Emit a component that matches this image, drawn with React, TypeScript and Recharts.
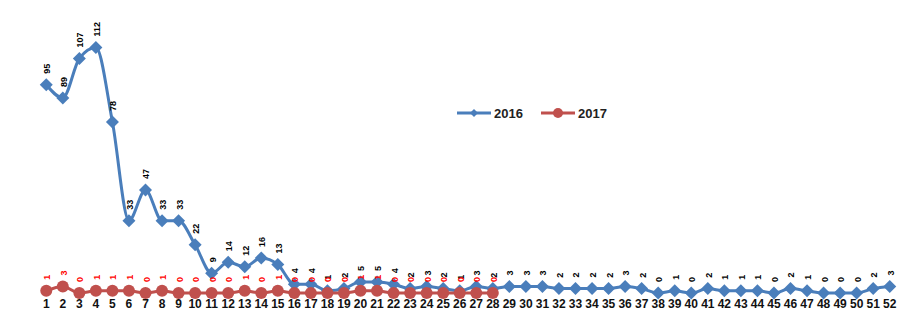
import { LineChart, Line, XAxis, YAxis, LabelList } from 'recharts';

const weeks = [
  1, 2, 3, 4, 5, 6, 7, 8, 9, 10, 11, 12, 13, 14, 15, 16, 17, 18, 19, 20, 21, 22, 23, 24, 25, 26,
  27, 28, 29, 30, 31, 32, 33, 34, 35, 36, 37, 38, 39, 40, 41, 42, 43, 44, 45, 46, 47, 48, 49, 50, 51, 52,
];
const cases2016 = [
  95, 89, 107, 112, 78, 33, 47, 33, 33, 22, 9, 14, 12, 16, 13, 4, 4, 1, 2, 5, 5, 4, 2, 3, 2, 1,
  3, 2, 3, 3, 3, 2, 2, 2, 2, 3, 2, 0, 1, 0, 2, 1, 1, 1, 0, 2, 1, 0, 0, 0, 2, 3,
];
const cases2017 = [
  1, 3, 0, 1, 1, 1, 0, 1, 0, 0, 0, 0, 1, 0, 1, 0, 0, 0, 0, 1, 1, 0, 0, 0, 0, 0, 0, 0,
];
const minorTicks = [
  0.5, 1.5, 2.5, 3.5, 4.5, 5.5, 6.5, 7.5, 8.5, 9.5, 10.5, 11.5, 12.5, 13.5, 14.5, 15.5, 16.5, 17.5,
  18.5, 19.5, 20.5, 21.5, 22.5, 23.5, 24.5, 25.5, 26.5, 27.5, 28.5, 29.5, 30.5, 31.5, 32.5, 33.5,
  34.5, 35.5, 36.5, 37.5, 38.5, 39.5, 40.5, 41.5, 42.5, 43.5, 44.5, 45.5, 46.5, 47.5, 48.5, 49.5,
  50.5, 51.5, 52.5,
];

const BLUE = '#4a7ebb';
const RED = '#c0504d';
const FONT = 'Liberation Sans, Arial, sans-serif';

const data = weeks.map((w, i) => ({
  week: w,
  y2016: cases2016[i],
  y2017: i < cases2017.length ? cases2017[i] : null,
}));

const Diamond = (props: any) => {
  const { cx, cy } = props;
  if (cx == null || cy == null) return null;
  const r = 6.5;
  return <path d={`M${cx},${cy - r}L${cx + r},${cy}L${cx},${cy + r}L${cx - r},${cy}Z`} fill={BLUE} />;
};

const Dot = (props: any) => {
  const { cx, cy } = props;
  if (cx == null || cy == null) return null;
  return <circle cx={cx} cy={cy} r={6} fill={RED} />;
};

const vLabel = (color: string) => (props: any) => {
  const { x, y, value } = props;
  if (value == null || x == null || y == null) return null;
  const tx = x + 1;
  const ty = y - 11;
  return (
    <text
      x={tx}
      y={ty}
      transform={`rotate(-90 ${tx} ${ty})`}
      fill={color}
      fontSize={9}
      fontWeight="bold"
      fontFamily={FONT}
      textAnchor="start"
      dominantBaseline="central"
    >
      {value}
    </text>
  );
};

const LegendBox = () => (
  <svg width={170} height={20}>
    <line x1={2} y1={10} x2={36} y2={10} stroke={BLUE} strokeWidth={3} />
    <path d="M19,6L23,10L19,14L15,10Z" fill={BLUE} />
    <text x={39} y={14.5} fontSize={13} fontWeight="bold" fill="#222" fontFamily={FONT}>2016</text>
    <line x1={86} y1={10} x2={120} y2={10} stroke={RED} strokeWidth={3} />
    <circle cx={103} cy={10} r={5} fill={RED} />
    <text x={123} y={14.5} fontSize={13} fontWeight="bold" fill="#222" fontFamily={FONT}>2017</text>
  </svg>
);

export default function App() {
  return (
    <div style={{ position: 'absolute', left: 0, top: 0, width: 911, height: 315, background: '#fff' }}>
      <LineChart width={911} height={315} data={data} margin={{ top: 30, right: 13, left: 38, bottom: 2 }}>
        <XAxis
          xAxisId="minor"
          type="number"
          dataKey="week"
          domain={[0.5, 52.5]}
          ticks={minorTicks}
          tick={false}
          tickSize={3}
          tickLine={{ stroke: '#d8b8b8' }}
          axisLine={{ stroke: '#c8c8c8' }}
          height={0}
        />
        <XAxis
          type="number"
          dataKey="week"
          domain={[0.5, 52.5]}
          ticks={weeks}
          interval={0}
          tickLine={false}
          axisLine={false}
          height={20}
          tickMargin={0}
          tick={{ fill: '#111', fontSize: 12, fontWeight: 'bold', fontFamily: FONT }}
        />
        <YAxis hide domain={[0, 120]} />
        <Line
          type="monotone"
          dataKey="y2016"
          name="2016"
          stroke={BLUE}
          strokeWidth={3}
          dot={<Diamond />}
          isAnimationActive={false}
        >
          <LabelList dataKey="y2016" content={vLabel('#000')} />
        </Line>
        <Line
          type="monotone"
          dataKey="y2017"
          name="2017"
          stroke={RED}
          strokeWidth={3}
          dot={<Dot />}
          isAnimationActive={false}
        >
          <LabelList dataKey="y2017" content={vLabel('#ff0000')} />
        </Line>
      </LineChart>
      <div style={{ position: 'absolute', left: 455, top: 103 }}>
        <LegendBox />
      </div>
    </div>
  );
}
